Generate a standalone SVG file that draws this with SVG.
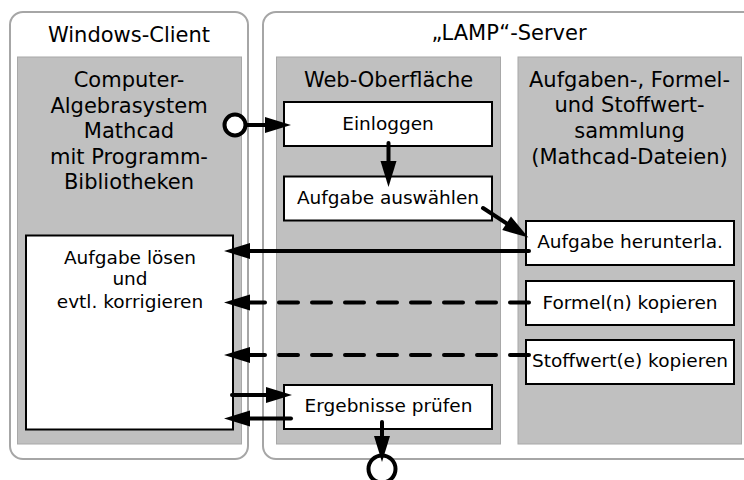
<svg xmlns="http://www.w3.org/2000/svg" width="744" height="480" viewBox="0 0 744 480">
<style>
.outer{fill:#fff;stroke:#a6a6a6;stroke-width:2}
.panel{fill:#c0c0c0;stroke:#a8a8a8;stroke-width:1}
.box{fill:#fff;stroke:#000;stroke-width:2}
.hd{font-family:"DejaVu Sans",Verdana,sans-serif;font-size:21px;fill:#000;text-anchor:middle}
.tx{font-family:"DejaVu Sans",Verdana,sans-serif;font-size:18.5px;fill:#000;text-anchor:middle}
.ln{fill:none;stroke:#000;stroke-width:4;stroke-linecap:round}
.dash{stroke-dasharray:19 14}
.ring{fill:#fff;stroke:#000;stroke-width:4}
</style>
<defs>
<marker id="ah" markerUnits="userSpaceOnUse" markerWidth="28" markerHeight="18" refX="16" refY="8" orient="auto" overflow="visible">
<path d="M0,0 L26,8 L0,16 z" fill="#000"/>
</marker>
</defs>
<g id="windows-client">
<rect class="outer" x="10" y="12" width="238" height="447" rx="13"/>
<text class="hd" x="129" y="41.5">Windows-Client</text>
</g>
<g id="lamp-server">
<rect class="outer" x="263" y="12" width="500" height="447" rx="13"/>
<text class="hd" x="509" y="40">„LAMP“-Server</text>
</g>
<g id="mathcad">
<rect class="panel" x="17.5" y="57" width="224" height="387"/>
<text class="hd" x="129" y="87">Computer-</text>
<text class="hd" x="129" y="112.5">Algebrasystem</text>
<text class="hd" x="129" y="138">Mathcad</text>
<text class="hd" x="129" y="163.5">mit Programm-</text>
<text class="hd" x="129" y="189">Bibliotheken</text>
</g>
<g id="web">
<rect class="panel" x="276.5" y="57" width="224" height="387"/>
<text class="hd" x="388.5" y="87">Web-Oberfläche</text>
</g>
<g id="sammlung">
<rect class="panel" x="518" y="57" width="223.5" height="387"/>
<text class="hd" x="629.5" y="87">Aufgaben-, Formel-</text>
<text class="hd" x="629.5" y="112">und Stoffwert-</text>
<text class="hd" x="629.5" y="138">sammlung</text>
<text class="hd" x="629.5" y="163.5">(Mathcad-Dateien)</text>
</g>
<g id="loesen">
<rect class="box" x="26" y="235.5" width="207" height="194"/>
<text class="tx" x="130" y="263.5">Aufgabe lösen</text>
<text class="tx" x="130" y="285">und</text>
<text class="tx" x="130" y="308">evtl. korrigieren</text>
</g>
<g id="einloggen">
<rect class="box" x="284" y="102" width="208" height="44"/>
<text class="tx" x="388" y="130">Einloggen</text>
</g>
<g id="auswaehlen">
<rect class="box" x="284" y="176.5" width="208" height="44"/>
<text class="tx" x="388" y="203.5">Aufgabe auswählen</text>
</g>
<g id="pruefen">
<rect class="box" x="284" y="385" width="208" height="44"/>
<text class="tx" x="388.5" y="412">Ergebnisse prüfen</text>
</g>
<g id="herunterladen">
<rect class="box" x="526" y="221" width="208" height="44"/>
<text class="tx" x="630" y="247.5">Aufgabe herunterla.</text>
</g>
<g id="formel">
<rect class="box" x="526" y="281" width="208" height="44"/>
<text class="tx" x="630" y="308.5">Formel(n) kopieren</text>
</g>
<g id="stoffwert">
<rect class="box" x="526" y="340" width="208" height="44"/>
<text class="tx" x="630" y="367">Stoffwert(e) kopieren</text>
</g>
<g id="start">
<circle class="ring" cx="235" cy="125" r="10.5"/>
</g>
<g id="end">
<circle class="ring" cx="382" cy="469" r="13.5"/>
</g>
<g id="connectors">
<path class="ln" d="M247,125 L281,125" marker-end="url(#ah)"/>
<path class="ln" d="M388.5,143 L388.5,177" marker-end="url(#ah)"/>
<path class="ln" d="M483,208 L520,232" marker-end="url(#ah)"/>
<path class="ln" d="M529,251 L234,251" marker-end="url(#ah)"/>
<path class="ln dash" d="M529,302.5 L234,302.5" marker-end="url(#ah)"/>
<path class="ln dash" d="M529,355 L234,355" marker-end="url(#ah)"/>
<path class="ln" d="M232,395 L282,395" marker-end="url(#ah)"/>
<path class="ln" d="M291,418.5 L234,418.5" marker-end="url(#ah)"/>
<path class="ln" d="M382,422 L382,452" marker-end="url(#ah)"/>
</g>
</svg>
